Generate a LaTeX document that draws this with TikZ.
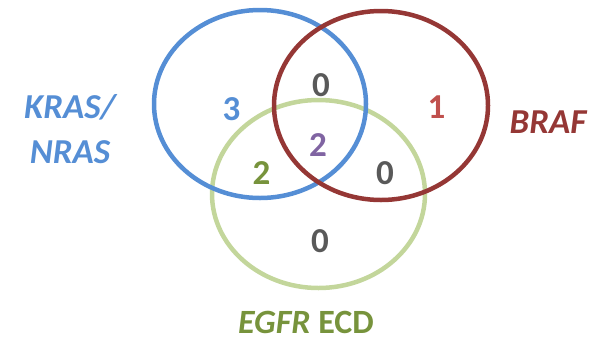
\documentclass[tikz,border=0pt]{standalone}
\usepackage{fontspec}
\setmainfont{Carlito}
\definecolor{kblue}{HTML}{558ED5}
\definecolor{bred}{HTML}{953735}
\definecolor{onered}{HTML}{C0504D}
\definecolor{egreen}{HTML}{C3D69B}
\definecolor{dgreen}{HTML}{77933C}
\definecolor{purp}{HTML}{8064A2}
\definecolor{dgray}{HTML}{595959}
\tikzset{
  ring/.style={line width=4.5pt},
  count/.style={font=\fontsize{35}{40}\selectfont\bfseries, inner sep=0pt, anchor=center},
  setlabel/.style={font=\fontsize{35}{45}\selectfont\bfseries\itshape, inner sep=0pt, anchor=center, align=center}
}
\begin{document}
\begin{tikzpicture}[x=1pt, y=-1pt]
\useasboundingbox (0,0) rectangle (593,338);
% the three sets
\draw[ring, egreen] (318.5,194) ellipse [x radius=106.5, y radius=94];
\draw[ring, kblue] (260,104) ellipse [x radius=106, y radius=94];
\draw[ring, bred] (381,105.5) ellipse [x radius=107, y radius=94.5];
% region counts
\node[count, kblue] (nk) at (231.5,109) {3};
\node[count, dgray] (nkb) at (321,85) {0};
\node[count, onered] (nb) at (436.5,107) {1};
\node[count, purp] (nall) at (318,145) {2};
\node[count, dgreen] (nke) at (261.5,173) {2};
\node[count, dgray] (nbe) at (385,173) {0};
\node[count, dgray] (ne) at (320,241.5) {0};
% set names
\node[setlabel, kblue] (lk) at (70,129) {KRAS/\\NRAS};
\node[setlabel, bred] (lb) at (548,122) {BRAF};
\node[font=\fontsize{34}{40}\selectfont\bfseries, inner sep=0pt, anchor=base, dgreen] (le) at (306,333) {\textit{EGFR} ECD};
\end{tikzpicture}
\end{document}
